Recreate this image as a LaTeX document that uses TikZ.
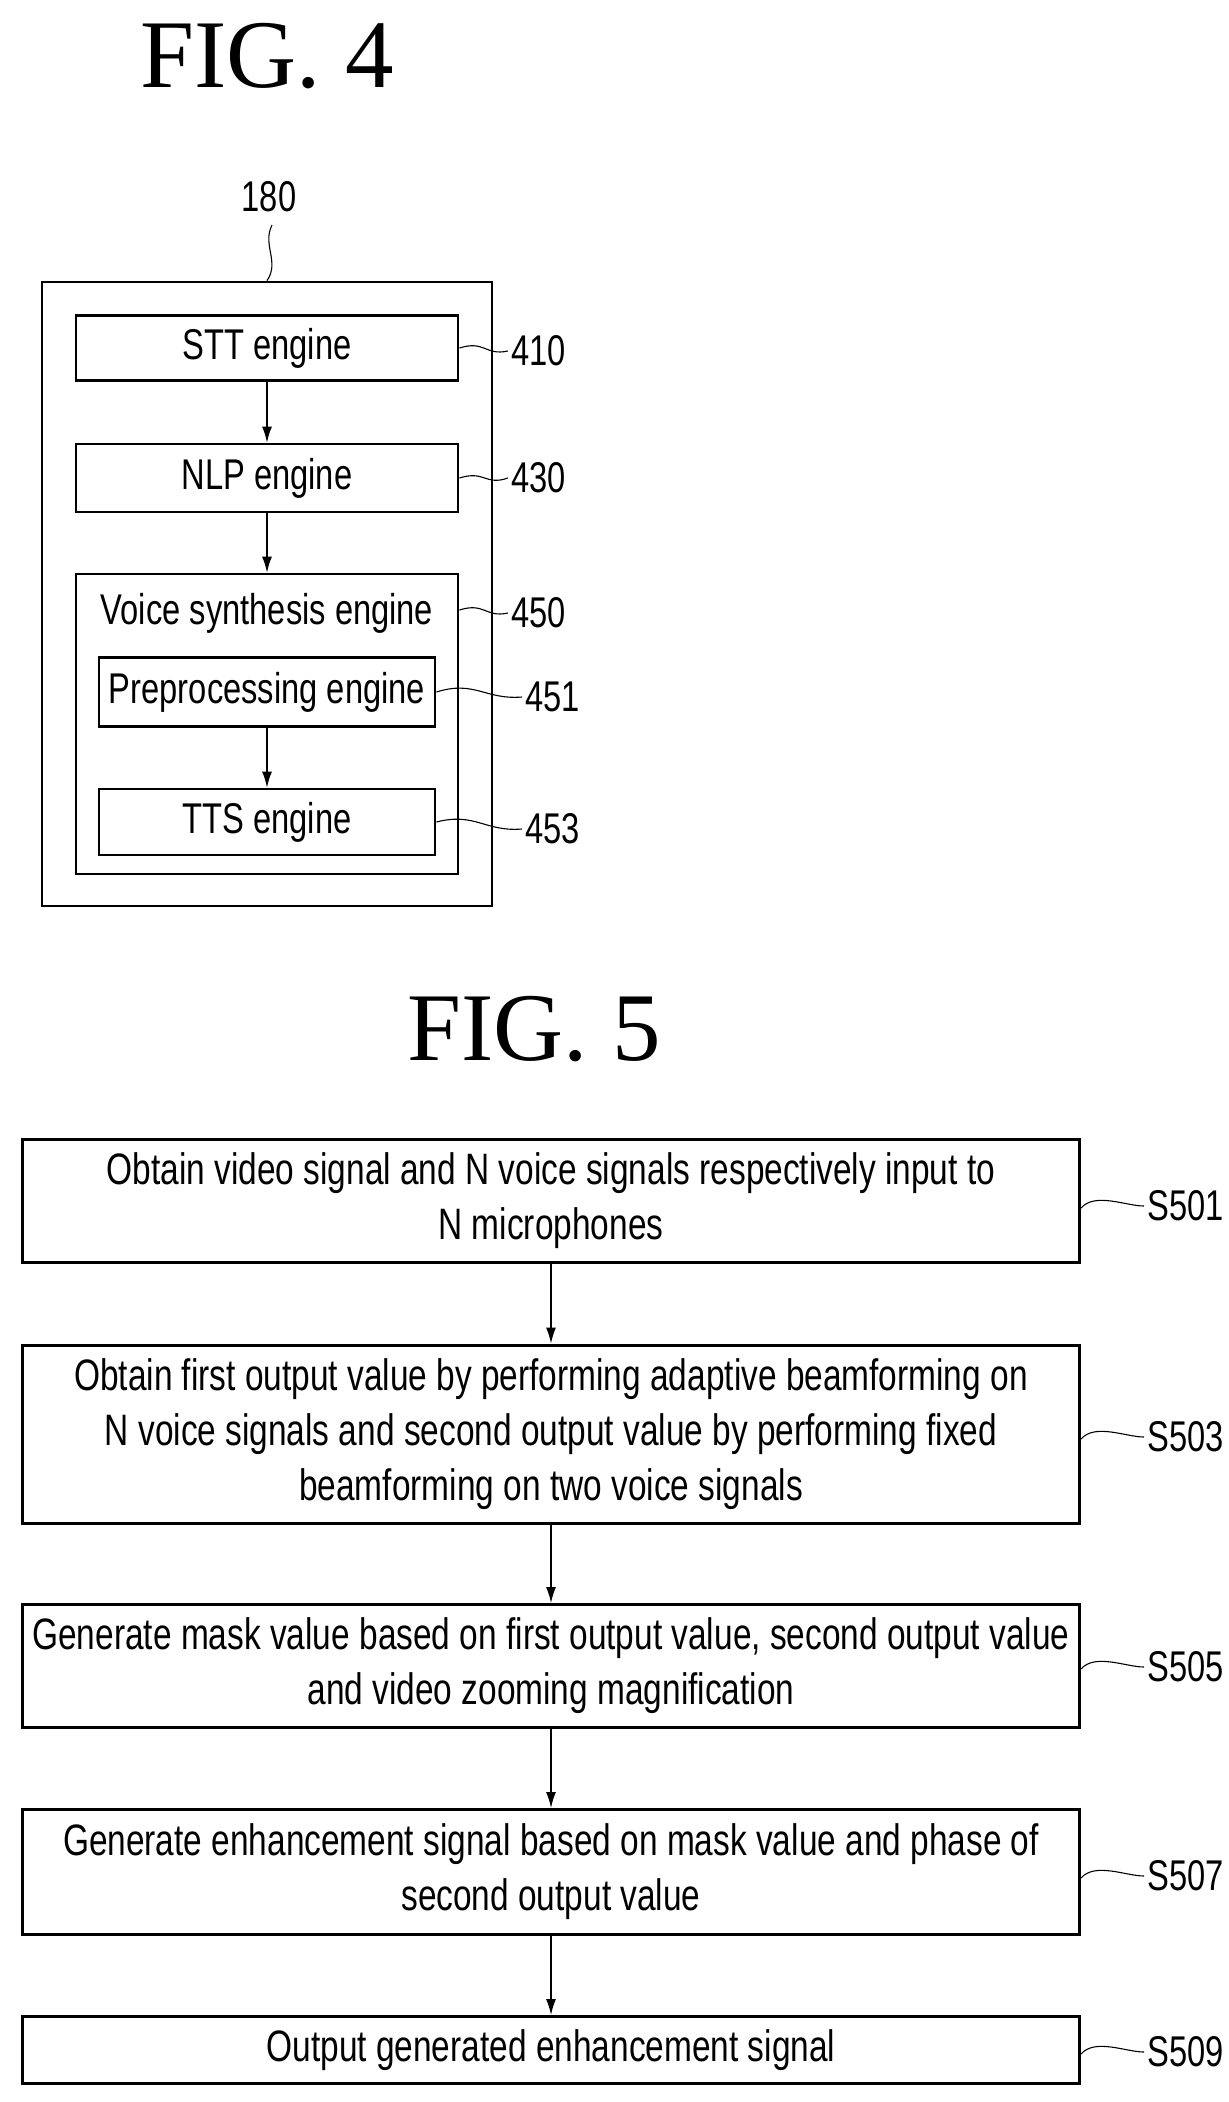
\documentclass[tikz,border=0pt]{standalone}
\usepackage{fontspec}
\setmainfont{Liberation Sans}[FakeStretch=0.76]
\newfontfamily\titlefont{Liberation Serif}
\usetikzlibrary{arrows.meta}
\begin{document}
\begin{tikzpicture}[x=1pt,y=-1pt,
  box/.style={draw,line width=2.8pt,rectangle,inner sep=0pt},
  arr/.style={line width=1.4pt,-{Latex[length=16pt,width=10pt]}},
  lead/.style={line width=1.1pt},
  sm/.style={font=\fontsize{43}{50}\selectfont},
  lg/.style={font=\fontsize{44}{55}\selectfont,align=center},
  ttl/.style={font=\titlefont\fontsize{97}{100}\selectfont}]
\useasboundingbox (0,0) rectangle (1229,2102);
% FIG 4
\node[ttl] (f4) at (267,56) {FIG. 4};
\node[sm] (l180) at (269,197) {180};
\node[box,minimum width=450pt,minimum height=624pt] (outer) at (267,594) {};
\coordinate (q1) at (272,225);
\draw[lead] (q1) .. controls (262,245) and (280,262) .. (outer.north);
\node[box,minimum width=382pt,minimum height=65pt,sm] (stt) at (267,348) {STT engine};
\node[box,minimum width=382pt,minimum height=68pt,sm] (nlp) at (267,478) {NLP engine};
\node[box,minimum width=382pt,minimum height=300pt] (vs) at (267,724) {};
\node[sm] (vst) at (267,613) {Voice synthesis engine};
\node[box,minimum width=336pt,minimum height=69pt,sm] (pre) at (267,692) {Preprocessing engine};
\node[box,minimum width=336pt,minimum height=66pt,sm] (tts) at (267,822) {TTS engine};
\draw[arr] (stt) -- (nlp);
\draw[arr] (nlp) -- (vs);
\draw[arr] (pre) -- (tts);
\node[sm,anchor=west] (n410) at (508,351) {410};
\node[sm,anchor=west] (n430) at (508,478) {430};
\node[sm,anchor=west] (n450) at (508,613) {450};
\node[sm,anchor=west] (n451) at (522,697) {451};
\node[sm,anchor=west] (n453) at (522,829) {453};
\draw[lead] (stt.east|-0,348) .. controls (485,340) and (485,356) .. (n410.west);
\draw[lead] (nlp.east) .. controls (485,470) and (485,486) .. (n430.west);
\draw[lead] (vs.east|-0,610) .. controls (485,602) and (485,618) .. (n450.west);
\draw[lead] (pre.east) .. controls (475,680) and (485,700) .. (n451.west);
\draw[lead] (tts.east) .. controls (475,812) and (485,832) .. (n453.west);
% FIG 5
\node[ttl] (f5) at (534,1029) {FIG. 5};
\node[box,line width=3pt,minimum width=1057pt,minimum height=123pt,lg] (b1) at (551,1201) {Obtain video signal and N voice signals respectively input to\\N microphones};
\node[box,line width=3pt,minimum width=1057pt,minimum height=178pt,lg] (b2) at (551,1434) {Obtain first output value by performing adaptive beamforming on\\N voice signals and second output value by performing fixed\\beamforming on two voice signals};
\node[box,line width=3pt,minimum width=1057pt,minimum height=123pt,lg] (b3) at (551,1666) {Generate mask value based on first output value, second output value\\and video zooming magnification};
\node[box,line width=3pt,minimum width=1057pt,minimum height=125pt,lg] (b4) at (551,1872) {Generate enhancement signal based on mask value and phase of\\second output value};
\node[box,line width=3pt,minimum width=1057pt,minimum height=67pt,lg] (b5) at (551,2050) {Output generated enhancement signal};
\draw[arr] (b1) -- (b2);
\draw[arr] (b2) -- (b3);
\draw[arr] (b3) -- (b4);
\draw[arr] (b4) -- (b5);
\node[sm,anchor=west] (s1) at (1144,1206) {S501};
\node[sm,anchor=west] (s3) at (1144,1437) {S503};
\node[sm,anchor=west] (s5) at (1144,1667) {S505};
\node[sm,anchor=west] (s7) at (1144,1876) {S507};
\node[sm,anchor=west] (s9) at (1144,2052) {S509};
\foreach \b/\s in {b1/s1,b2/s3,b3/s5,b4/s7,b5/s9}{
  \draw[lead] (\b.east|-\s.west) ++(0,2) .. controls +(14,-16) and +(-18,0) .. (\s.west);
}
\end{tikzpicture}
\end{document}
